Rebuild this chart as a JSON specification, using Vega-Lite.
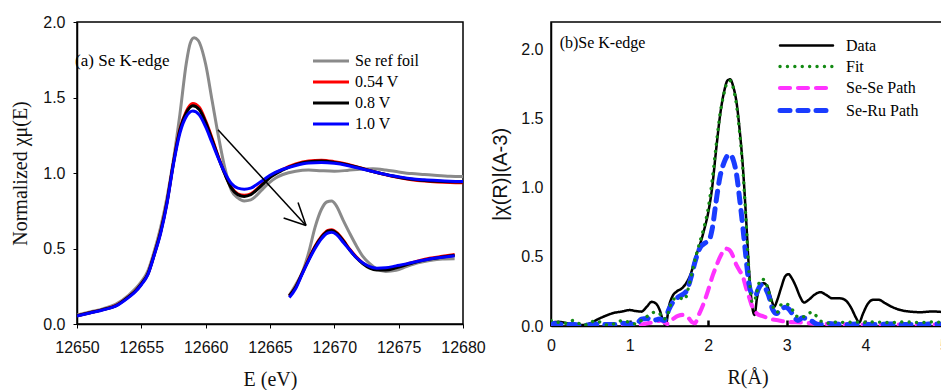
{
  "$schema": "https://vega.github.io/schema/vega-lite/v6.json",
  "background": "white",
  "padding": {"left": 10, "top": 13, "right": 0, "bottom": 0},
  "spacing": 88,
  "bounds": "flush",
  "resolve": {
    "scale": {"color": "independent", "strokeDash": "independent", "strokeWidth": "independent"},
    "legend": {"color": "independent", "strokeDash": "independent", "strokeWidth": "independent"}
  },
  "datasets": {
    "xanes": [
      {"s":"Se ref foil","p":"main","E":12650,"v":0.06},{"s":"Se ref foil","p":"main","E":12651,"v":0.08},{"s":"Se ref foil","p":"main","E":12652,"v":0.1},{"s":"Se ref foil","p":"main","E":12653,"v":0.13},{"s":"Se ref foil","p":"main","E":12654,"v":0.19},{"s":"Se ref foil","p":"main","E":12655,"v":0.28},{"s":"Se ref foil","p":"main","E":12655.5,"v":0.35},{"s":"Se ref foil","p":"main","E":12656,"v":0.48},{"s":"Se ref foil","p":"main","E":12656.5,"v":0.64},{"s":"Se ref foil","p":"main","E":12657,"v":0.84},{"s":"Se ref foil","p":"main","E":12657.5,"v":1.09},{"s":"Se ref foil","p":"main","E":12658,"v":1.39},{"s":"Se ref foil","p":"main","E":12658.5,"v":1.73},{"s":"Se ref foil","p":"main","E":12658.8,"v":1.86},{"s":"Se ref foil","p":"main","E":12659.1,"v":1.895},{"s":"Se ref foil","p":"main","E":12659.4,"v":1.88},{"s":"Se ref foil","p":"main","E":12660,"v":1.72},{"s":"Se ref foil","p":"main","E":12660.5,"v":1.48},{"s":"Se ref foil","p":"main","E":12661,"v":1.24},{"s":"Se ref foil","p":"main","E":12661.5,"v":1.03},{"s":"Se ref foil","p":"main","E":12662,"v":0.885},{"s":"Se ref foil","p":"main","E":12662.5,"v":0.835},{"s":"Se ref foil","p":"main","E":12663,"v":0.815},{"s":"Se ref foil","p":"main","E":12663.5,"v":0.822},{"s":"Se ref foil","p":"main","E":12664,"v":0.855},{"s":"Se ref foil","p":"main","E":12664.5,"v":0.9},{"s":"Se ref foil","p":"main","E":12665,"v":0.94},{"s":"Se ref foil","p":"main","E":12665.5,"v":0.97},{"s":"Se ref foil","p":"main","E":12666,"v":0.99},{"s":"Se ref foil","p":"main","E":12667,"v":1.012},{"s":"Se ref foil","p":"main","E":12668,"v":1.02},{"s":"Se ref foil","p":"main","E":12669,"v":1.015},{"s":"Se ref foil","p":"main","E":12670,"v":1.012},{"s":"Se ref foil","p":"main","E":12671,"v":1.017},{"s":"Se ref foil","p":"main","E":12672,"v":1.025},{"s":"Se ref foil","p":"main","E":12673,"v":1.028},{"s":"Se ref foil","p":"main","E":12674,"v":1.02},{"s":"Se ref foil","p":"main","E":12675,"v":1.007},{"s":"Se ref foil","p":"main","E":12676,"v":0.996},{"s":"Se ref foil","p":"main","E":12677,"v":0.99},{"s":"Se ref foil","p":"main","E":12678,"v":0.984},{"s":"Se ref foil","p":"main","E":12679,"v":0.979},{"s":"Se ref foil","p":"main","E":12680,"v":0.976},
      {"s":"Se ref foil","p":"inset","E":12666.5,"v":0.19},{"s":"Se ref foil","p":"inset","E":12667,"v":0.26},{"s":"Se ref foil","p":"inset","E":12667.5,"v":0.34},{"s":"Se ref foil","p":"inset","E":12668,"v":0.47},{"s":"Se ref foil","p":"inset","E":12668.5,"v":0.64},{"s":"Se ref foil","p":"inset","E":12669,"v":0.76},{"s":"Se ref foil","p":"inset","E":12669.4,"v":0.808},{"s":"Se ref foil","p":"inset","E":12669.8,"v":0.815},{"s":"Se ref foil","p":"inset","E":12670.1,"v":0.79},{"s":"Se ref foil","p":"inset","E":12670.7,"v":0.685},{"s":"Se ref foil","p":"inset","E":12671.2,"v":0.6},{"s":"Se ref foil","p":"inset","E":12671.7,"v":0.52},{"s":"Se ref foil","p":"inset","E":12672.2,"v":0.45},{"s":"Se ref foil","p":"inset","E":12672.75,"v":0.4},{"s":"Se ref foil","p":"inset","E":12673.3,"v":0.365},{"s":"Se ref foil","p":"inset","E":12674,"v":0.348},{"s":"Se ref foil","p":"inset","E":12674.8,"v":0.355},{"s":"Se ref foil","p":"inset","E":12675.6,"v":0.38},{"s":"Se ref foil","p":"inset","E":12676.5,"v":0.405},{"s":"Se ref foil","p":"inset","E":12677.4,"v":0.42},{"s":"Se ref foil","p":"inset","E":12678.4,"v":0.43},{"s":"Se ref foil","p":"inset","E":12679.35,"v":0.432},
      {"s":"0.54 V","p":"main","E":12650,"v":0.055},{"s":"0.54 V","p":"main","E":12651,"v":0.075},{"s":"0.54 V","p":"main","E":12652,"v":0.095},{"s":"0.54 V","p":"main","E":12653,"v":0.122},{"s":"0.54 V","p":"main","E":12654,"v":0.18},{"s":"0.54 V","p":"main","E":12654.5,"v":0.215},{"s":"0.54 V","p":"main","E":12655,"v":0.265},{"s":"0.54 V","p":"main","E":12655.5,"v":0.33},{"s":"0.54 V","p":"main","E":12656,"v":0.46},{"s":"0.54 V","p":"main","E":12656.5,"v":0.61},{"s":"0.54 V","p":"main","E":12657,"v":0.81},{"s":"0.54 V","p":"main","E":12657.5,"v":1.07},{"s":"0.54 V","p":"main","E":12658,"v":1.29},{"s":"0.54 V","p":"main","E":12658.5,"v":1.41},{"s":"0.54 V","p":"main","E":12659,"v":1.46},{"s":"0.54 V","p":"main","E":12659.5,"v":1.435},{"s":"0.54 V","p":"main","E":12660,"v":1.345},{"s":"0.54 V","p":"main","E":12660.5,"v":1.23},{"s":"0.54 V","p":"main","E":12661,"v":1.105},{"s":"0.54 V","p":"main","E":12661.5,"v":0.995},{"s":"0.54 V","p":"main","E":12662,"v":0.905},{"s":"0.54 V","p":"main","E":12662.5,"v":0.862},{"s":"0.54 V","p":"main","E":12663,"v":0.852},{"s":"0.54 V","p":"main","E":12663.5,"v":0.862},{"s":"0.54 V","p":"main","E":12664,"v":0.895},{"s":"0.54 V","p":"main","E":12664.5,"v":0.935},{"s":"0.54 V","p":"main","E":12665,"v":0.975},{"s":"0.54 V","p":"main","E":12666,"v":1.025},{"s":"0.54 V","p":"main","E":12667,"v":1.06},{"s":"0.54 V","p":"main","E":12668,"v":1.08},{"s":"0.54 V","p":"main","E":12669,"v":1.085},{"s":"0.54 V","p":"main","E":12670,"v":1.075},{"s":"0.54 V","p":"main","E":12671,"v":1.058},{"s":"0.54 V","p":"main","E":12672,"v":1.035},{"s":"0.54 V","p":"main","E":12673,"v":1.01},{"s":"0.54 V","p":"main","E":12674,"v":0.988},{"s":"0.54 V","p":"main","E":12675,"v":0.97},{"s":"0.54 V","p":"main","E":12676,"v":0.956},{"s":"0.54 V","p":"main","E":12677,"v":0.947},{"s":"0.54 V","p":"main","E":12678,"v":0.941},{"s":"0.54 V","p":"main","E":12679,"v":0.937},{"s":"0.54 V","p":"main","E":12680,"v":0.935},
      {"s":"0.54 V","p":"inset","E":12666.5,"v":0.185},{"s":"0.54 V","p":"inset","E":12667,"v":0.245},{"s":"0.54 V","p":"inset","E":12667.5,"v":0.335},{"s":"0.54 V","p":"inset","E":12668,"v":0.43},{"s":"0.54 V","p":"inset","E":12668.5,"v":0.515},{"s":"0.54 V","p":"inset","E":12669,"v":0.58},{"s":"0.54 V","p":"inset","E":12669.5,"v":0.62},{"s":"0.54 V","p":"inset","E":12669.8,"v":0.625},{"s":"0.54 V","p":"inset","E":12670.2,"v":0.605},{"s":"0.54 V","p":"inset","E":12670.7,"v":0.555},{"s":"0.54 V","p":"inset","E":12671.2,"v":0.495},{"s":"0.54 V","p":"inset","E":12671.7,"v":0.445},{"s":"0.54 V","p":"inset","E":12672.2,"v":0.405},{"s":"0.54 V","p":"inset","E":12672.75,"v":0.375},{"s":"0.54 V","p":"inset","E":12673.3,"v":0.362},{"s":"0.54 V","p":"inset","E":12674,"v":0.362},{"s":"0.54 V","p":"inset","E":12674.8,"v":0.376},{"s":"0.54 V","p":"inset","E":12675.6,"v":0.396},{"s":"0.54 V","p":"inset","E":12676.5,"v":0.418},{"s":"0.54 V","p":"inset","E":12677.4,"v":0.435},{"s":"0.54 V","p":"inset","E":12678.4,"v":0.448},{"s":"0.54 V","p":"inset","E":12679.35,"v":0.46},
      {"s":"0.8 V","p":"main","E":12650,"v":0.055},{"s":"0.8 V","p":"main","E":12651,"v":0.075},{"s":"0.8 V","p":"main","E":12652,"v":0.095},{"s":"0.8 V","p":"main","E":12653,"v":0.12},{"s":"0.8 V","p":"main","E":12654,"v":0.18},{"s":"0.8 V","p":"main","E":12654.5,"v":0.215},{"s":"0.8 V","p":"main","E":12655,"v":0.265},{"s":"0.8 V","p":"main","E":12655.5,"v":0.33},{"s":"0.8 V","p":"main","E":12656,"v":0.46},{"s":"0.8 V","p":"main","E":12656.5,"v":0.61},{"s":"0.8 V","p":"main","E":12657,"v":0.81},{"s":"0.8 V","p":"main","E":12657.5,"v":1.07},{"s":"0.8 V","p":"main","E":12658,"v":1.285},{"s":"0.8 V","p":"main","E":12658.5,"v":1.40},{"s":"0.8 V","p":"main","E":12659,"v":1.445},{"s":"0.8 V","p":"main","E":12659.5,"v":1.42},{"s":"0.8 V","p":"main","E":12660,"v":1.335},{"s":"0.8 V","p":"main","E":12660.5,"v":1.22},{"s":"0.8 V","p":"main","E":12661,"v":1.1},{"s":"0.8 V","p":"main","E":12661.5,"v":0.99},{"s":"0.8 V","p":"main","E":12662,"v":0.9},{"s":"0.8 V","p":"main","E":12662.5,"v":0.857},{"s":"0.8 V","p":"main","E":12663,"v":0.845},{"s":"0.8 V","p":"main","E":12663.5,"v":0.856},{"s":"0.8 V","p":"main","E":12664,"v":0.89},{"s":"0.8 V","p":"main","E":12664.5,"v":0.93},{"s":"0.8 V","p":"main","E":12665,"v":0.97},{"s":"0.8 V","p":"main","E":12666,"v":1.02},{"s":"0.8 V","p":"main","E":12667,"v":1.055},{"s":"0.8 V","p":"main","E":12668,"v":1.075},{"s":"0.8 V","p":"main","E":12669,"v":1.08},{"s":"0.8 V","p":"main","E":12670,"v":1.07},{"s":"0.8 V","p":"main","E":12671,"v":1.055},{"s":"0.8 V","p":"main","E":12672,"v":1.033},{"s":"0.8 V","p":"main","E":12673,"v":1.01},{"s":"0.8 V","p":"main","E":12674,"v":0.99},{"s":"0.8 V","p":"main","E":12675,"v":0.972},{"s":"0.8 V","p":"main","E":12676,"v":0.958},{"s":"0.8 V","p":"main","E":12677,"v":0.95},{"s":"0.8 V","p":"main","E":12678,"v":0.945},{"s":"0.8 V","p":"main","E":12679,"v":0.942},{"s":"0.8 V","p":"main","E":12680,"v":0.94},
      {"s":"0.8 V","p":"inset","E":12666.5,"v":0.185},{"s":"0.8 V","p":"inset","E":12667,"v":0.245},{"s":"0.8 V","p":"inset","E":12667.5,"v":0.335},{"s":"0.8 V","p":"inset","E":12668,"v":0.425},{"s":"0.8 V","p":"inset","E":12668.5,"v":0.51},{"s":"0.8 V","p":"inset","E":12669,"v":0.575},{"s":"0.8 V","p":"inset","E":12669.5,"v":0.615},{"s":"0.8 V","p":"inset","E":12669.8,"v":0.62},{"s":"0.8 V","p":"inset","E":12670.2,"v":0.6},{"s":"0.8 V","p":"inset","E":12670.7,"v":0.55},{"s":"0.8 V","p":"inset","E":12671.2,"v":0.49},{"s":"0.8 V","p":"inset","E":12671.7,"v":0.44},{"s":"0.8 V","p":"inset","E":12672.2,"v":0.4},{"s":"0.8 V","p":"inset","E":12672.75,"v":0.37},{"s":"0.8 V","p":"inset","E":12673.3,"v":0.358},{"s":"0.8 V","p":"inset","E":12674,"v":0.358},{"s":"0.8 V","p":"inset","E":12674.8,"v":0.372},{"s":"0.8 V","p":"inset","E":12675.6,"v":0.392},{"s":"0.8 V","p":"inset","E":12676.5,"v":0.413},{"s":"0.8 V","p":"inset","E":12677.4,"v":0.43},{"s":"0.8 V","p":"inset","E":12678.4,"v":0.443},{"s":"0.8 V","p":"inset","E":12679.35,"v":0.455},
      {"s":"1.0 V","p":"main","E":12650,"v":0.053},{"s":"1.0 V","p":"main","E":12651,"v":0.073},{"s":"1.0 V","p":"main","E":12652,"v":0.093},{"s":"1.0 V","p":"main","E":12653,"v":0.118},{"s":"1.0 V","p":"main","E":12654,"v":0.175},{"s":"1.0 V","p":"main","E":12654.5,"v":0.21},{"s":"1.0 V","p":"main","E":12655,"v":0.26},{"s":"1.0 V","p":"main","E":12655.5,"v":0.325},{"s":"1.0 V","p":"main","E":12656,"v":0.455},{"s":"1.0 V","p":"main","E":12656.5,"v":0.6},{"s":"1.0 V","p":"main","E":12657,"v":0.8},{"s":"1.0 V","p":"main","E":12657.5,"v":1.06},{"s":"1.0 V","p":"main","E":12658,"v":1.265},{"s":"1.0 V","p":"main","E":12658.5,"v":1.375},{"s":"1.0 V","p":"main","E":12659,"v":1.41},{"s":"1.0 V","p":"main","E":12659.5,"v":1.385},{"s":"1.0 V","p":"main","E":12660,"v":1.305},{"s":"1.0 V","p":"main","E":12660.5,"v":1.2},{"s":"1.0 V","p":"main","E":12661,"v":1.095},{"s":"1.0 V","p":"main","E":12661.5,"v":1.0},{"s":"1.0 V","p":"main","E":12662,"v":0.93},{"s":"1.0 V","p":"main","E":12662.5,"v":0.9},{"s":"1.0 V","p":"main","E":12663,"v":0.893},{"s":"1.0 V","p":"main","E":12663.5,"v":0.9},{"s":"1.0 V","p":"main","E":12664,"v":0.925},{"s":"1.0 V","p":"main","E":12664.5,"v":0.955},{"s":"1.0 V","p":"main","E":12665,"v":0.985},{"s":"1.0 V","p":"main","E":12666,"v":1.025},{"s":"1.0 V","p":"main","E":12667,"v":1.05},{"s":"1.0 V","p":"main","E":12668,"v":1.066},{"s":"1.0 V","p":"main","E":12669,"v":1.07},{"s":"1.0 V","p":"main","E":12670,"v":1.064},{"s":"1.0 V","p":"main","E":12671,"v":1.05},{"s":"1.0 V","p":"main","E":12672,"v":1.03},{"s":"1.0 V","p":"main","E":12673,"v":1.01},{"s":"1.0 V","p":"main","E":12674,"v":0.99},{"s":"1.0 V","p":"main","E":12675,"v":0.975},{"s":"1.0 V","p":"main","E":12676,"v":0.962},{"s":"1.0 V","p":"main","E":12677,"v":0.955},{"s":"1.0 V","p":"main","E":12678,"v":0.95},{"s":"1.0 V","p":"main","E":12679,"v":0.946},{"s":"1.0 V","p":"main","E":12680,"v":0.944},
      {"s":"1.0 V","p":"inset","E":12666.5,"v":0.175},{"s":"1.0 V","p":"inset","E":12667,"v":0.235},{"s":"1.0 V","p":"inset","E":12667.5,"v":0.33},{"s":"1.0 V","p":"inset","E":12668,"v":0.42},{"s":"1.0 V","p":"inset","E":12668.5,"v":0.5},{"s":"1.0 V","p":"inset","E":12669,"v":0.565},{"s":"1.0 V","p":"inset","E":12669.5,"v":0.603},{"s":"1.0 V","p":"inset","E":12669.8,"v":0.607},{"s":"1.0 V","p":"inset","E":12670.2,"v":0.59},{"s":"1.0 V","p":"inset","E":12670.7,"v":0.54},{"s":"1.0 V","p":"inset","E":12671.2,"v":0.49},{"s":"1.0 V","p":"inset","E":12671.7,"v":0.44},{"s":"1.0 V","p":"inset","E":12672.2,"v":0.405},{"s":"1.0 V","p":"inset","E":12672.75,"v":0.38},{"s":"1.0 V","p":"inset","E":12673.3,"v":0.37},{"s":"1.0 V","p":"inset","E":12674,"v":0.372},{"s":"1.0 V","p":"inset","E":12674.8,"v":0.385},{"s":"1.0 V","p":"inset","E":12675.6,"v":0.398},{"s":"1.0 V","p":"inset","E":12676.5,"v":0.415},{"s":"1.0 V","p":"inset","E":12677.4,"v":0.43},{"s":"1.0 V","p":"inset","E":12678.4,"v":0.442},{"s":"1.0 V","p":"inset","E":12679.35,"v":0.452}
    ],
    "arrow": [
      {"x":12660.96,"y":1.287,"x2":12667.8,"y2":0.652},
      {"x":12667.8,"y":0.652,"x2":12666.06,"y2":0.702},
      {"x":12667.8,"y":0.652,"x2":12667.18,"y2":0.805}
    ],
    "ltext": [{"x":12649.85,"y":1.744,"t":"(a) Se K-edge"}],
    "rtext": [{"x":0.11,"y":2.05,"t":"(b)Se K-edge"}],
    "exafs": [
      {"s":"Data","R":0.0,"v":0.025},{"s":"Data","R":0.1,"v":0.03},{"s":"Data","R":0.2,"v":0.02},{"s":"Data","R":0.3,"v":0.01},{"s":"Data","R":0.4,"v":0.007},{"s":"Data","R":0.5,"v":0.02},{"s":"Data","R":0.6,"v":0.05},{"s":"Data","R":0.7,"v":0.075},{"s":"Data","R":0.8,"v":0.095},{"s":"Data","R":0.9,"v":0.104},{"s":"Data","R":1.0,"v":0.115},{"s":"Data","R":1.08,"v":0.108},{"s":"Data","R":1.15,"v":0.104},{"s":"Data","R":1.22,"v":0.14},{"s":"Data","R":1.28,"v":0.175},{"s":"Data","R":1.33,"v":0.165},{"s":"Data","R":1.38,"v":0.12},{"s":"Data","R":1.42,"v":0.05},{"s":"Data","R":1.46,"v":0.007},{"s":"Data","R":1.5,"v":0.14},{"s":"Data","R":1.55,"v":0.22},{"s":"Data","R":1.6,"v":0.25},{"s":"Data","R":1.67,"v":0.275},{"s":"Data","R":1.72,"v":0.31},{"s":"Data","R":1.78,"v":0.38},{"s":"Data","R":1.84,"v":0.5},{"s":"Data","R":1.89,"v":0.58},{"s":"Data","R":1.95,"v":0.7},{"s":"Data","R":2.0,"v":0.82},{"s":"Data","R":2.05,"v":1.0},{"s":"Data","R":2.1,"v":1.27},{"s":"Data","R":2.15,"v":1.52},{"s":"Data","R":2.2,"v":1.69},{"s":"Data","R":2.25,"v":1.78},{"s":"Data","R":2.28,"v":1.785},{"s":"Data","R":2.32,"v":1.73},{"s":"Data","R":2.36,"v":1.62},{"s":"Data","R":2.4,"v":1.42},{"s":"Data","R":2.44,"v":1.16},{"s":"Data","R":2.48,"v":0.8},{"s":"Data","R":2.52,"v":0.4},{"s":"Data","R":2.56,"v":0.14},{"s":"Data","R":2.59,"v":0.08},{"s":"Data","R":2.62,"v":0.2},{"s":"Data","R":2.66,"v":0.29},{"s":"Data","R":2.7,"v":0.31},{"s":"Data","R":2.75,"v":0.29},{"s":"Data","R":2.8,"v":0.2},{"s":"Data","R":2.84,"v":0.14},{"s":"Data","R":2.88,"v":0.19},{"s":"Data","R":2.93,"v":0.28},{"s":"Data","R":2.98,"v":0.36},{"s":"Data","R":3.02,"v":0.375},{"s":"Data","R":3.07,"v":0.34},{"s":"Data","R":3.12,"v":0.28},{"s":"Data","R":3.17,"v":0.21},{"s":"Data","R":3.22,"v":0.17},{"s":"Data","R":3.28,"v":0.19},{"s":"Data","R":3.35,"v":0.225},{"s":"Data","R":3.43,"v":0.245},{"s":"Data","R":3.5,"v":0.225},{"s":"Data","R":3.58,"v":0.2},{"s":"Data","R":3.68,"v":0.2},{"s":"Data","R":3.75,"v":0.185},{"s":"Data","R":3.82,"v":0.13},{"s":"Data","R":3.88,"v":0.06},{"s":"Data","R":3.92,"v":0.025},{"s":"Data","R":3.97,"v":0.09},{"s":"Data","R":4.03,"v":0.16},{"s":"Data","R":4.1,"v":0.19},{"s":"Data","R":4.17,"v":0.19},{"s":"Data","R":4.25,"v":0.165},{"s":"Data","R":4.35,"v":0.135},{"s":"Data","R":4.45,"v":0.115},{"s":"Data","R":4.55,"v":0.105},{"s":"Data","R":4.7,"v":0.1},{"s":"Data","R":4.85,"v":0.105},{"s":"Data","R":5.0,"v":0.1},
      {"s":"Se-Se Path","R":0.0,"v":0.01},{"s":"Se-Se Path","R":0.2,"v":0.005},{"s":"Se-Se Path","R":0.4,"v":0.005},{"s":"Se-Se Path","R":0.6,"v":0.01},{"s":"Se-Se Path","R":0.8,"v":0.005},{"s":"Se-Se Path","R":1.0,"v":0.01},{"s":"Se-Se Path","R":1.1,"v":0.005},{"s":"Se-Se Path","R":1.23,"v":0.02},{"s":"Se-Se Path","R":1.33,"v":0.03},{"s":"Se-Se Path","R":1.4,"v":0.04},{"s":"Se-Se Path","R":1.48,"v":0.015},{"s":"Se-Se Path","R":1.55,"v":0.05},{"s":"Se-Se Path","R":1.62,"v":0.075},{"s":"Se-Se Path","R":1.68,"v":0.08},{"s":"Se-Se Path","R":1.74,"v":0.065},{"s":"Se-Se Path","R":1.79,"v":0.03},{"s":"Se-Se Path","R":1.83,"v":0.02},{"s":"Se-Se Path","R":1.88,"v":0.08},{"s":"Se-Se Path","R":1.94,"v":0.16},{"s":"Se-Se Path","R":2.0,"v":0.26},{"s":"Se-Se Path","R":2.06,"v":0.37},{"s":"Se-Se Path","R":2.1,"v":0.43},{"s":"Se-Se Path","R":2.16,"v":0.51},{"s":"Se-Se Path","R":2.22,"v":0.56},{"s":"Se-Se Path","R":2.27,"v":0.55},{"s":"Se-Se Path","R":2.32,"v":0.5},{"s":"Se-Se Path","R":2.36,"v":0.44},{"s":"Se-Se Path","R":2.4,"v":0.4},{"s":"Se-Se Path","R":2.44,"v":0.36},{"s":"Se-Se Path","R":2.48,"v":0.28},{"s":"Se-Se Path","R":2.52,"v":0.21},{"s":"Se-Se Path","R":2.56,"v":0.14},{"s":"Se-Se Path","R":2.62,"v":0.09},{"s":"Se-Se Path","R":2.7,"v":0.07},{"s":"Se-Se Path","R":2.8,"v":0.05},{"s":"Se-Se Path","R":2.9,"v":0.04},{"s":"Se-Se Path","R":3.0,"v":0.03},{"s":"Se-Se Path","R":3.2,"v":0.025},{"s":"Se-Se Path","R":3.4,"v":0.015},{"s":"Se-Se Path","R":3.6,"v":0.015},{"s":"Se-Se Path","R":3.8,"v":0.01},{"s":"Se-Se Path","R":4.0,"v":0.01},{"s":"Se-Se Path","R":4.5,"v":0.01},{"s":"Se-Se Path","R":5.0,"v":0.01},
      {"s":"Se-Ru Path","R":0.0,"v":0.02},{"s":"Se-Ru Path","R":0.1,"v":0.015},{"s":"Se-Ru Path","R":0.2,"v":0.01},{"s":"Se-Ru Path","R":0.3,"v":0.01},{"s":"Se-Ru Path","R":0.4,"v":0.005},{"s":"Se-Ru Path","R":0.5,"v":0.01},{"s":"Se-Ru Path","R":0.6,"v":0.015},{"s":"Se-Ru Path","R":0.7,"v":0.01},{"s":"Se-Ru Path","R":0.8,"v":0.01},{"s":"Se-Ru Path","R":0.9,"v":0.02},{"s":"Se-Ru Path","R":1.0,"v":0.015},{"s":"Se-Ru Path","R":1.08,"v":0.01},{"s":"Se-Ru Path","R":1.15,"v":0.05},{"s":"Se-Ru Path","R":1.22,"v":0.055},{"s":"Se-Ru Path","R":1.3,"v":0.04},{"s":"Se-Ru Path","R":1.38,"v":0.05},{"s":"Se-Ru Path","R":1.44,"v":0.04},{"s":"Se-Ru Path","R":1.5,"v":0.12},{"s":"Se-Ru Path","R":1.56,"v":0.18},{"s":"Se-Ru Path","R":1.62,"v":0.21},{"s":"Se-Ru Path","R":1.68,"v":0.23},{"s":"Se-Ru Path","R":1.73,"v":0.26},{"s":"Se-Ru Path","R":1.78,"v":0.35},{"s":"Se-Ru Path","R":1.84,"v":0.48},{"s":"Se-Ru Path","R":1.9,"v":0.57},{"s":"Se-Ru Path","R":1.96,"v":0.6},{"s":"Se-Ru Path","R":2.01,"v":0.62},{"s":"Se-Ru Path","R":2.05,"v":0.7},{"s":"Se-Ru Path","R":2.1,"v":0.9},{"s":"Se-Ru Path","R":2.15,"v":1.08},{"s":"Se-Ru Path","R":2.2,"v":1.18},{"s":"Se-Ru Path","R":2.25,"v":1.235},{"s":"Se-Ru Path","R":2.28,"v":1.24},{"s":"Se-Ru Path","R":2.32,"v":1.2},{"s":"Se-Ru Path","R":2.36,"v":1.1},{"s":"Se-Ru Path","R":2.4,"v":0.92},{"s":"Se-Ru Path","R":2.44,"v":0.72},{"s":"Se-Ru Path","R":2.48,"v":0.5},{"s":"Se-Ru Path","R":2.52,"v":0.3},{"s":"Se-Ru Path","R":2.56,"v":0.23},{"s":"Se-Ru Path","R":2.6,"v":0.22},{"s":"Se-Ru Path","R":2.64,"v":0.27},{"s":"Se-Ru Path","R":2.68,"v":0.3},{"s":"Se-Ru Path","R":2.72,"v":0.28},{"s":"Se-Ru Path","R":2.77,"v":0.22},{"s":"Se-Ru Path","R":2.82,"v":0.12},{"s":"Se-Ru Path","R":2.87,"v":0.09},{"s":"Se-Ru Path","R":2.92,"v":0.12},{"s":"Se-Ru Path","R":2.98,"v":0.135},{"s":"Se-Ru Path","R":3.03,"v":0.12},{"s":"Se-Ru Path","R":3.08,"v":0.08},{"s":"Se-Ru Path","R":3.14,"v":0.04},{"s":"Se-Ru Path","R":3.2,"v":0.06},{"s":"Se-Ru Path","R":3.26,"v":0.05},{"s":"Se-Ru Path","R":3.32,"v":0.035},{"s":"Se-Ru Path","R":3.4,"v":0.01},{"s":"Se-Ru Path","R":3.5,"v":0.02},{"s":"Se-Ru Path","R":3.6,"v":0.015},{"s":"Se-Ru Path","R":3.75,"v":0.01},{"s":"Se-Ru Path","R":3.9,"v":0.015},{"s":"Se-Ru Path","R":4.1,"v":0.01},{"s":"Se-Ru Path","R":4.3,"v":0.015},{"s":"Se-Ru Path","R":4.5,"v":0.01},{"s":"Se-Ru Path","R":4.7,"v":0.01},{"s":"Se-Ru Path","R":4.85,"v":0.015},{"s":"Se-Ru Path","R":5.0,"v":0.01},
      {"s":"Fit","R":0.0,"v":0.04},{"s":"Fit","R":0.1,"v":0.025},{"s":"Fit","R":0.2,"v":0.02},{"s":"Fit","R":0.28,"v":0.04},{"s":"Fit","R":0.35,"v":0.02},{"s":"Fit","R":0.42,"v":0.005},{"s":"Fit","R":0.5,"v":0.025},{"s":"Fit","R":0.57,"v":0.04},{"s":"Fit","R":0.65,"v":0.02},{"s":"Fit","R":0.74,"v":0.005},{"s":"Fit","R":0.82,"v":0.02},{"s":"Fit","R":0.91,"v":0.04},{"s":"Fit","R":1.0,"v":0.025},{"s":"Fit","R":1.08,"v":0.015},{"s":"Fit","R":1.15,"v":0.04},{"s":"Fit","R":1.25,"v":0.08},{"s":"Fit","R":1.32,"v":0.1},{"s":"Fit","R":1.38,"v":0.09},{"s":"Fit","R":1.43,"v":0.05},{"s":"Fit","R":1.47,"v":0.06},{"s":"Fit","R":1.52,"v":0.15},{"s":"Fit","R":1.58,"v":0.2},{"s":"Fit","R":1.65,"v":0.2},{"s":"Fit","R":1.7,"v":0.19},{"s":"Fit","R":1.75,"v":0.28},{"s":"Fit","R":1.8,"v":0.4},{"s":"Fit","R":1.85,"v":0.52},{"s":"Fit","R":1.9,"v":0.62},{"s":"Fit","R":1.95,"v":0.72},{"s":"Fit","R":2.0,"v":0.85},{"s":"Fit","R":2.05,"v":1.05},{"s":"Fit","R":2.1,"v":1.3},{"s":"Fit","R":2.15,"v":1.53},{"s":"Fit","R":2.2,"v":1.68},{"s":"Fit","R":2.25,"v":1.77},{"s":"Fit","R":2.28,"v":1.775},{"s":"Fit","R":2.32,"v":1.72},{"s":"Fit","R":2.36,"v":1.6},{"s":"Fit","R":2.4,"v":1.4},{"s":"Fit","R":2.44,"v":1.14},{"s":"Fit","R":2.48,"v":0.78},{"s":"Fit","R":2.52,"v":0.38},{"s":"Fit","R":2.56,"v":0.17},{"s":"Fit","R":2.6,"v":0.2},{"s":"Fit","R":2.64,"v":0.3},{"s":"Fit","R":2.68,"v":0.34},{"s":"Fit","R":2.72,"v":0.33},{"s":"Fit","R":2.76,"v":0.27},{"s":"Fit","R":2.8,"v":0.18},{"s":"Fit","R":2.84,"v":0.12},{"s":"Fit","R":2.88,"v":0.1},{"s":"Fit","R":2.93,"v":0.155},{"s":"Fit","R":2.98,"v":0.16},{"s":"Fit","R":3.03,"v":0.15},{"s":"Fit","R":3.08,"v":0.11},{"s":"Fit","R":3.13,"v":0.07},{"s":"Fit","R":3.18,"v":0.06},{"s":"Fit","R":3.25,"v":0.08},{"s":"Fit","R":3.32,"v":0.1},{"s":"Fit","R":3.38,"v":0.07},{"s":"Fit","R":3.45,"v":0.03},{"s":"Fit","R":3.55,"v":0.02},{"s":"Fit","R":3.65,"v":0.03},{"s":"Fit","R":3.75,"v":0.025},{"s":"Fit","R":3.85,"v":0.03},{"s":"Fit","R":3.95,"v":0.025},{"s":"Fit","R":4.1,"v":0.03},{"s":"Fit","R":4.3,"v":0.025},{"s":"Fit","R":4.5,"v":0.03},{"s":"Fit","R":4.7,"v":0.025},{"s":"Fit","R":4.85,"v":0.03},{"s":"Fit","R":5.0,"v":0.025}
    ]
  },
  "hconcat": [
    {
      "width": 386,
      "height": 302,
      "layer": [
        {
          "data": {"name": "xanes"},
          "mark": {"type": "line", "strokeWidth": 3, "interpolate": "monotone", "clip": true},
          "encoding": {
            "x": {"field": "E", "type": "quantitative", "title": "E (eV)",
                  "scale": {"domain": [12650, 12680], "nice": false, "zero": false},
                  "axis": {"values": [12650, 12655, 12660, 12665, 12670, 12675, 12680], "format": "d", "labelFlush": false, "labelOverlap": false, "tickSize": 4, "labelPadding": 11, "titlePadding": 14}},
            "y": {"field": "v", "type": "quantitative", "title": "Normalized χμ(E)",
                  "scale": {"domain": [0, 2], "nice": false},
                  "axis": {"values": [0, 0.5, 1, 1.5, 2], "format": ".1f", "labelFlush": false, "labelOverlap": false, "tickSize": 4, "labelPadding": 8, "titlePadding": 12}},
            "color": {"field": "s", "type": "nominal",
                      "scale": {"domain": ["Se ref foil", "0.54 V", "0.8 V", "1.0 V"], "range": ["#8a8a8a", "#ff0000", "#000000", "#0000ff"]},
                      "legend": {"title": null, "orient": "none", "legendX": 246, "legendY": 31, "symbolType": "M-3,0H3", "symbolSize": 144, "symbolStrokeWidth": 3, "symbolFillColor": "transparent", "labelOffset": 16, "rowPadding": 5}},
            "detail": {"field": "p"}
          }
        },
        {
          "data": {"name": "arrow"},
          "mark": {"type": "rule", "strokeWidth": 1.5, "color": "#000"},
          "encoding": {
            "x": {"field": "x", "type": "quantitative", "title": "E (eV)"},
            "y": {"field": "y", "type": "quantitative", "title": "Normalized χμ(E)"},
            "x2": {"field": "x2"},
            "y2": {"field": "y2"}
          }
        },
        {
          "data": {"name": "ltext"},
          "mark": {"type": "text", "align": "left", "baseline": "middle", "font": "Liberation Serif", "fontSize": 17, "color": "#000"},
          "encoding": {
            "x": {"field": "x", "type": "quantitative", "title": "E (eV)"},
            "y": {"field": "y", "type": "quantitative", "title": "Normalized χμ(E)"},
            "text": {"field": "t"}
          }
        }
      ]
    },
    {
      "width": 393,
      "height": 304,
      "layer": [
        {
          "data": {"name": "exafs"},
          "mark": {"type": "line", "interpolate": "monotone", "strokeCap": "round", "clip": true},
          "encoding": {
            "x": {"field": "R", "type": "quantitative", "title": "R(Å)",
                  "scale": {"domain": [0, 5], "nice": false},
                  "axis": {"values": [0, 1, 2, 3, 4, 5], "format": "d", "labelFlush": false, "labelOverlap": false, "tickSize": -6, "tickWidth": 2.5, "labelPadding": 17, "titlePadding": 14}},
            "y": {"field": "v", "type": "quantitative", "title": "|χ(R)|(A-3)",
                  "scale": {"domain": [0, 2.2], "nice": false},
                  "axis": {"values": [0, 0.5, 1, 1.5, 2], "format": ".1f", "labelFlush": false, "labelOverlap": false, "ticks": false, "labelPadding": 8, "titlePadding": 10, "titleFont": "Liberation Sans"}},
            "color": {"field": "s", "type": "nominal",
                      "scale": {"domain": ["Data", "Fit", "Se-Se Path", "Se-Ru Path"], "range": ["#000000", "#138a13", "#ff33ff", "#1a3cff"]},
                      "legend": {"title": null, "orient": "none", "legendX": 244, "legendY": 13, "symbolType": "M-3,0H3", "symbolSize": 312, "symbolFillColor": "transparent", "labelOffset": 28, "rowPadding": 2,
                                 "encode": {"symbols": {"update": {"strokeCap": {"value": "round"}}}}}},
            "strokeDash": {"field": "s", "type": "nominal",
                      "scale": {"domain": ["Data", "Fit", "Se-Se Path", "Se-Ru Path"], "range": [[1, 0], [0.1, 7.3], [10, 8], [10, 8]]},
                      "legend": {"title": null}},
            "strokeWidth": {"field": "s", "type": "nominal",
                      "scale": {"domain": ["Data", "Fit", "Se-Se Path", "Se-Ru Path"], "range": [2.5, 5, 2.5, 2.5]},
                      "legend": {"title": null}}
          }
        },
        {
          "data": {"name": "rtext"},
          "mark": {"type": "text", "align": "left", "baseline": "middle", "font": "Liberation Serif", "fontSize": 16, "color": "#000"},
          "encoding": {
            "x": {"field": "x", "type": "quantitative", "title": "R(Å)"},
            "y": {"field": "y", "type": "quantitative", "title": "|χ(R)|(A-3)"},
            "text": {"field": "t"}
          }
        }
      ]
    }
  ],
  "config": {
    "view": {"stroke": "#000", "strokeWidth": 1.5},
    "axis": {
      "grid": false,
      "domainColor": "#000", "domainWidth": 1.5,
      "tickColor": "#000",
      "labelFont": "Liberation Sans", "labelFontSize": 16, "labelColor": "#111",
      "titleFont": "Liberation Serif", "titleFontSize": 20, "titleFontWeight": "normal", "titleColor": "#111"
    },
    "legend": {"symbolStrokeWidth": 3, "labelFont": "Liberation Serif", "labelFontSize": 16, "labelFontWeight": "normal", "labelColor": "#000"}
  }
}
